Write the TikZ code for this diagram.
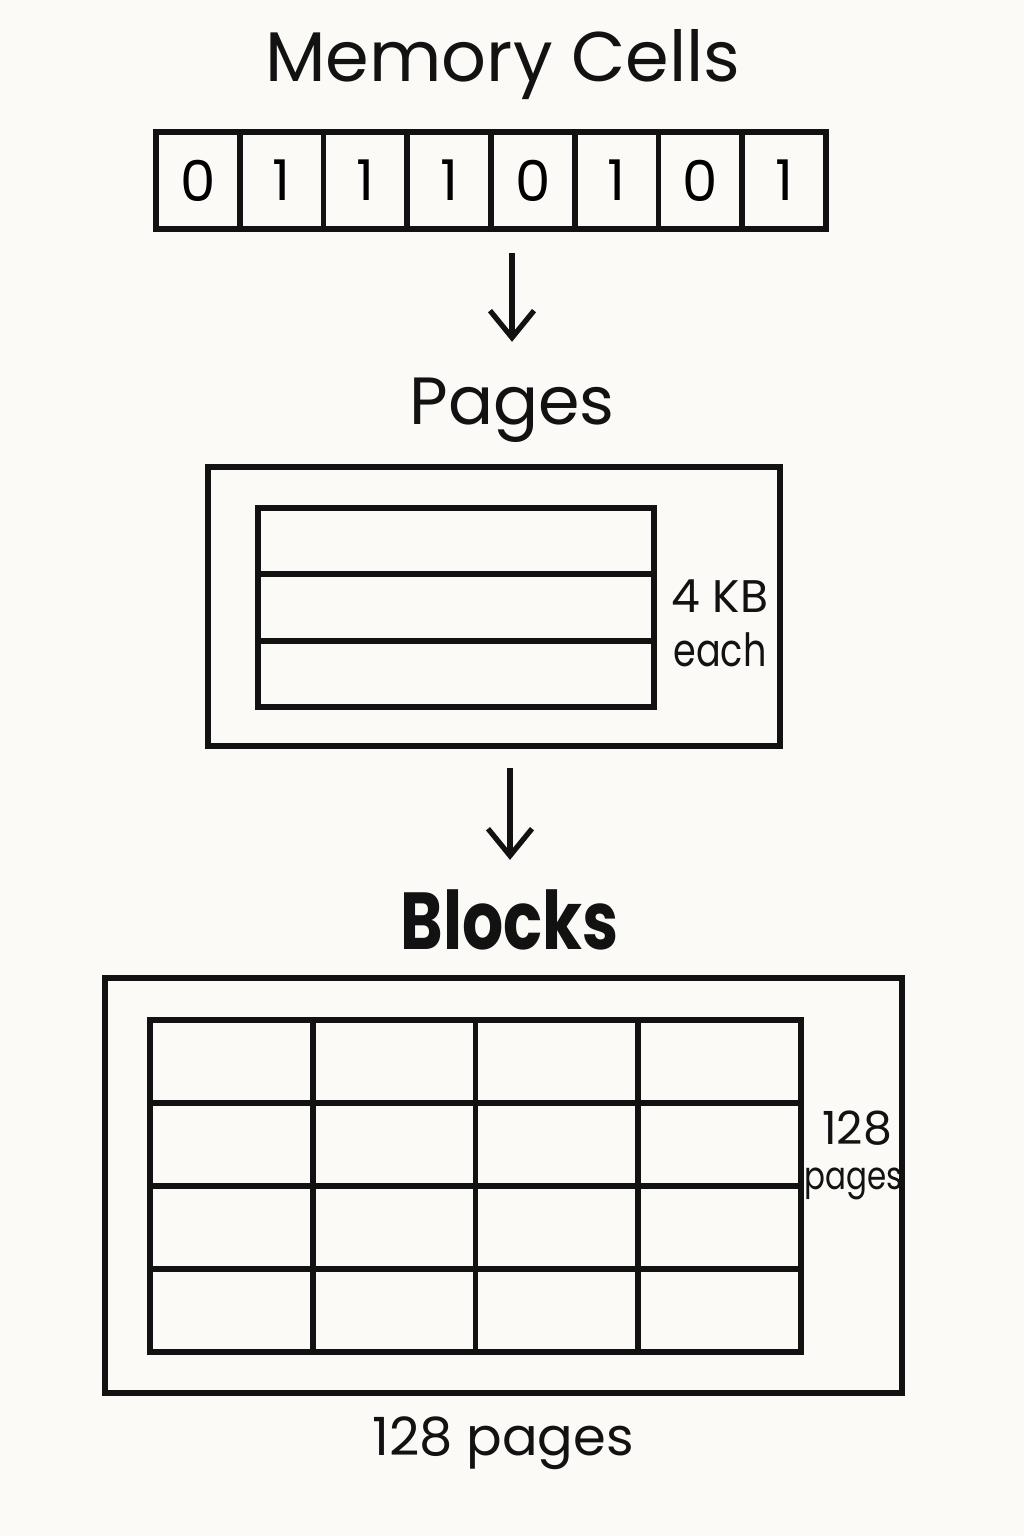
\documentclass[tikz,border=0pt]{standalone}
\usepackage{fontspec}
\setmainfont{Poppins}
\newfontfamily\narrowfont[FakeStretch=0.8]{Poppins}
\usepackage{tikz}
\usetikzlibrary{arrows.meta, positioning}
\definecolor{paper}{RGB}{251,250,246}
\definecolor{ink}{RGB}{18,18,18}

\begin{document}
\begin{tikzpicture}[
  line width=1.65pt,
  cell/.style={draw=ink, minimum width=0.8375cm, minimum height=0.97cm,
               inner sep=0pt, font=\fontsize{16}{18}\selectfont},
  page/.style={draw=ink, minimum width=3.96cm, minimum height=0.663cm, inner sep=0pt},
  slot/.style={draw=ink, minimum width=1.6275cm, minimum height=0.83cm, inner sep=0pt},
  frame/.style={draw=ink, inner sep=0pt},
  title/.style={font=\fontsize{20}{24}\selectfont, text=ink, inner sep=0pt},
  note/.style={font=\fontsize{13}{15}\selectfont, text=ink, inner sep=0pt},
  arr/.style={-{Straight Barb[length=0.27cm, width=0.44cm]}, draw=ink, line width=1.5pt},
]
\fill[paper] (0,0) rectangle (10.24,-15.36);

% MEMORY CELLS
\node[title] (celltitle) at (5.03,-0.65) {Memory Cells};
\foreach \b [count=\i] in {0,1,1,1,0,1,0,1}
  \node[cell] (c\i) at ({1.56+0.8375*(\i-0.5)},-1.805) {\b};

% PAGES
\node[title, font=\fontsize{19}{22}\selectfont] (pagetitle) at (5.12,-4.10) {Pages};
\node[frame, minimum width=5.72cm, minimum height=2.79cm] (pageframe) at (4.94,-6.065) {};
\foreach \r in {1,2,3}
  \node[page] (p\r) at (4.56,{-5.08-0.663*(\r-0.5)}) {};
\node[note] (kb) at (7.20,-5.96) {4 KB};
\node[note, font=\fontsize{13}{15}\narrowfont] (each) at (7.20,-6.50) {each};

\draw[arr, shorten <=0.21cm, shorten >=0.33cm] (pagetitle.north |- c5.south) -- (pagetitle.north);

% BLOCKS
\node[title, font=\fontsize{23}{26}\narrowfont\bfseries] (blocktitle) at (5.10,-9.20) {Blocks};
\node[frame, minimum width=7.97cm, minimum height=4.15cm] (blockframe) at (5.035,-11.855) {};
\foreach \r in {1,...,4}
  \foreach \c in {1,...,4}
    \node[slot] (s\r\c) at ({1.50+1.6275*(\c-0.5)},{-10.20-0.83*(\r-0.5)}) {};
\node[note] (rowcount) at (8.57,-11.28) {128};
\node[note, font=\fontsize{11}{13}\narrowfont] (rowunit) at (8.54,-11.84) {pages};
\node[note, font=\fontsize{15}{18}\selectfont] (blockcount) at (5.03,-14.43) {128 pages};

\draw[arr, shorten <=0.19cm, shorten >=0.27cm] (blocktitle.north |- pageframe.south) -- (blocktitle.north);

\end{tikzpicture}
\end{document}
